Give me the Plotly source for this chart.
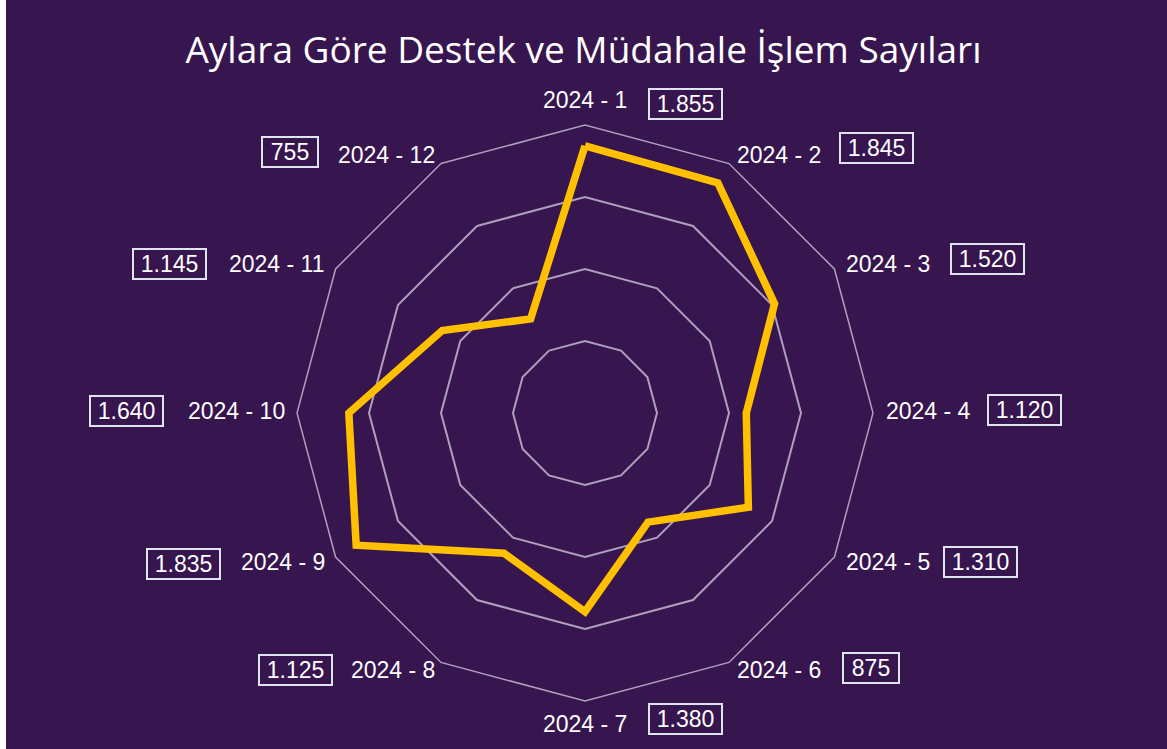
import plotly.graph_objects as go

months = ["2024 - 1", "2024 - 2", "2024 - 3", "2024 - 4", "2024 - 5", "2024 - 6",
          "2024 - 7", "2024 - 8", "2024 - 9", "2024 - 10", "2024 - 11", "2024 - 12"]
counts = [1855, 1845, 1520, 1120, 1310, 875, 1380, 1125, 1835, 1640, 1145, 755]
count_labels = ["1.855", "1.845", "1.520", "1.120", "1.310", "875",
                "1.380", "1.125", "1.835", "1.640", "1.145", "755"]
title_text = "Aylara Göre Destek ve Müdahale İşlem Sayıları"

W, H = 1167, 749
BG = "#37154f"
GRID = "rgba(215,205,225,0.75)"
FONT = "Liberation Sans, Arial"

# pixel centres of the value boxes and month labels (layout only)
box_px = [(685, 104), (876, 148), (987, 259), (1024, 410), (980, 562), (871, 668),
          (685, 719), (295, 670), (183, 564), (126, 411), (170, 264), (290, 152)]
label_px = [(585, 100), (779, 155), (888, 264), (928, 411), (888, 562), (779, 670),
            (585, 724), (393, 670), (283, 562), (236, 411), (276, 264), (386, 155)]

cx, cy, R = 585, 413, 288

fig = go.Figure()
fig.add_trace(go.Scatterpolar(
    r=counts + [counts[0]],
    theta=months + [months[0]],
    mode="lines",
    line=dict(color="#ffc000", width=7.5),
    hoverinfo="skip",
    showlegend=False,
))

annotations = []
for (px, py), txt in zip(box_px, count_labels):
    annotations.append(dict(
        x=px / W, y=1 - py / H, xref="paper", yref="paper",
        text=txt, showarrow=False,
        font=dict(family=FONT, size=23, color="white"),
        bordercolor="#dde6ee", borderwidth=2, borderpad=1.5,
        width=68 if len(txt) > 3 else 51, height=25, align="center",
        xanchor="center", yanchor="middle",
    ))
for (px, py), txt in zip(label_px, months):
    annotations.append(dict(
        x=px / W, y=1 - py / H, xref="paper", yref="paper",
        text=txt, showarrow=False,
        font=dict(family=FONT, size=23, color="white"),
        xanchor="center", yanchor="middle",
    ))

fig.update_layout(
    width=W, height=H,
    margin=dict(l=0, r=0, t=0, b=0),
    paper_bgcolor=BG,
    plot_bgcolor=BG,
    title=dict(text=title_text, x=0.5, xanchor="center", y=1 - 50 / H, yanchor="middle",
               font=dict(family="Open Sans", size=37, color="white")),
    polar=dict(
        bgcolor=BG,
        gridshape="linear",
        domain=dict(x=[(cx - R) / W, (cx + R) / W], y=[(H - cy - R) / H, (H - cy + R) / H]),
        radialaxis=dict(range=[0, 2000], dtick=500, showticklabels=False, ticks="",
                        showline=False, gridcolor=GRID, gridwidth=1.5),
        angularaxis=dict(direction="clockwise", rotation=90, showgrid=False,
                         showline=True, linecolor=GRID, linewidth=1.5,
                         ticks="", showticklabels=False),
    ),
    annotations=annotations,
    shapes=[dict(type="rect", xref="paper", yref="paper", x0=0, x1=6 / W, y0=0, y1=1,
                 fillcolor="white", line=dict(width=0), layer="above")],
)

fig.write_html("out.html", config={"displayModeBar": False},
               post_script="document.body.style.margin='0';")
